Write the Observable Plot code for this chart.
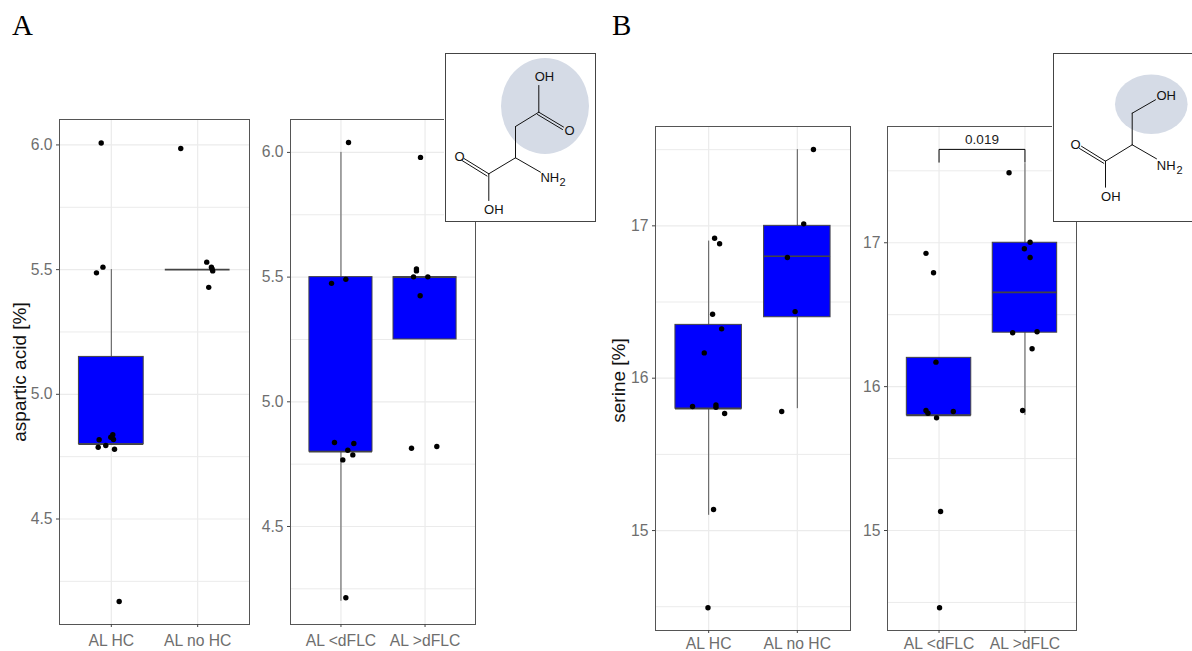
<!DOCTYPE html>
<html>
<head>
<meta charset="utf-8">
<script src="https://cdn.jsdelivr.net/npm/d3@7"></script>
<script src="https://cdn.jsdelivr.net/npm/@observablehq/plot@0.6"></script>
<style>
html,body{margin:0;padding:0;background:#fff;overflow:hidden}
#page{position:relative;width:1192px;height:651px;overflow:hidden;background:#fff}
#page svg{position:absolute;max-width:none}
.tag{position:absolute;font-family:"Liberation Serif",serif;font-size:29px;color:#000;line-height:1}
</style>
</head>
<body>
<div id="page"></div>
<script>
// ---- categories & labels
const hcCategories = ["AL HC", "AL no HC"];
const flcCategories = ["AL <dFLC", "AL >dFLC"];
const panelTags = ["A", "B"];
const aspLabel = "aspartic acid [%]";
const serLabel = "serine [%]";
const pValue = "0.019";

// ---- axis ticks
const aspMajor = [4.5, 5.0, 5.5, 6.0];
const aspMinor = [4.25, 4.75, 5.25, 5.75];
const serMajor = [15, 16, 17];
const serMinor = [14.5, 15.5, 16.5, 17.5];

// ---- aspartic acid, HC split
const a1Q1 = [4.8, 5.5], a1Q3 = [5.15, 5.5], a1Med = [4.8, 5.5], a1Lo = [4.8, 5.5], a1Hi = [5.5, 5.5];
const a1PtGroup = [0.883,0.903,0.828,0.859,0.848,0.936,1.037,1.017,0.994,1.025,1.091,1.804,2.105,2.159,2.167,2.174,2.128];
const a1PtValue = [6.008,5.51,5.487,4.818,4.788,4.795,4.78,4.838,4.828,4.819,4.169,5.986,5.53,5.51,5.503,5.495,5.429];

// ---- aspartic acid, dFLC split
const a2Q1 = [4.8, 5.25], a2Q3 = [5.5, 5.5], a2Med = [4.8, 5.5], a2Lo = [4.2, 5.25], a2Hi = [6.0, 5.5];
const a2PtGroup = [0.888,1.058,1.946,1.09,1.898,1.898,1.863,2.033,1.942,0.923,1.153,1.081,1.141,1.022,1.058,1.839,2.14];
const a2PtValue = [5.475,5.491,5.98,6.04,5.533,5.525,5.501,5.501,5.425,4.837,4.833,4.806,4.787,4.767,4.214,4.814,4.821];

// ---- serine, HC split
const b1Q1 = [15.8, 16.4], b1Q3 = [16.35, 17], b1Med = [15.8, 16.8], b1Lo = [15.1, 15.8], b1Hi = [16.9, 17.5];
const b1PtGroup = [1.067,1.123,2.182,2.072,1.888,1.044,1.146,0.95,0.818,1.082,1.082,1.18,1.975,1.824,1.055,0.992];
const b1PtValue = [16.919,16.882,17.501,17.013,16.792,16.42,16.324,16.166,15.814,15.825,15.809,15.768,16.437,15.781,15.138,14.493];

// ---- serine, dFLC split
const b2Q1 = [15.8, 16.375], b2Q3 = [16.2, 17], b2Med = [15.8, 16.655], b2Lo = [15.8, 15.8], b2Hi = [16.2, 17.55];
const b2PtGroup = [1.815,0.848,0.936,2.06,1.993,2.06,1.857,2.141,2.083,1.973,0.964,0.848,0.871,1.166,0.971,1.018,1.006];
const b2PtValue = [17.487,16.926,16.791,17.004,16.958,16.898,16.374,16.381,16.263,15.834,16.17,15.834,15.815,15.827,15.783,15.132,14.463];
const bracketGroup = [1, 1, 2, 2];
const bracketValue = [17.56, 17.649, 17.649, 17.56];

// ---- structural formulas (drawing units of each inset)
const aspBonds = [
  [[538.3,85],[538.3,111.7]],[[538.3,111.7],[563,126.5]],[[537,114],[562,129]],
  [[538.3,111.7],[515,126]],[[515,126],[515,157.3]],[[515,157.3],[488.3,173.3]],
  [[488.3,173.3],[463.5,158]],[[486.5,175.5],[461.5,160]],[[515,157.3],[540,171.7]],[[488.3,173.3],[488.3,200]]];
const aspAtoms = [["OH",544,76.7],["O",569,130.7],["O",459,156.7],["OH",493.3,209.3],["NH",549.3,177.3]];
const aspSub = [["2",562,181.5]];
const serBonds = [
  [[1155,99.3],[1131.7,112.7]],[[1131.7,112.7],[1131.7,144.3]],[[1131.7,144.3],[1105,160.7]],
  [[1105,160.7],[1081,145.8]],[[1103.3,162.8],[1079,148]],[[1131.7,144.3],[1156,158.3]],[[1105,160.7],[1105,186.7]]];
const serAtoms = [["OH",1165.7,95.7],["O",1075,144],["OH",1110.3,196.7],["NH",1165.7,165]];
const serSub = [["2",1179,170]];

const page = document.getElementById("page");
const sans = "'Liberation Sans', Arial, sans-serif";
const rows = (q1, q3, med, lo, hi) => q1.map((d, i) => ({g: i + 1, q1: d, q3: q3[i], med: med[i], lo: lo[i], hi: hi[i]}));
const dots = (xs, ys) => xs.map((x, i) => ({x, y: ys[i]}));

function panel(cfg) {
  const marginLeft = 50, marginRight = 1, marginTop = 1, marginBottom = 21;
  const boxes = cfg.boxes;
  const marks = [
    Plot.ruleY(cfg.minor, {stroke: "#ebebeb", strokeWidth: 1}),
    Plot.ruleY(cfg.major, {stroke: "#ebebeb", strokeWidth: 1.2}),
    Plot.ruleX([1, 2], {stroke: "#ebebeb", strokeWidth: 1.2}),
    Plot.ruleX(boxes, {x: "g", y1: "lo", y2: "hi", stroke: "#555", strokeWidth: 1}),
    Plot.rect(boxes, {x1: d => d.g - 0.375, x2: d => d.g + 0.375, y1: "q1", y2: "q3", fill: "#0000ff", stroke: "#444", strokeWidth: 1}),
    Plot.ruleY(boxes, {y: "med", x1: d => d.g - 0.375, x2: d => d.g + 0.375, stroke: "#444", strokeWidth: 1.6}),
    Plot.dot(cfg.points, {x: "x", y: "y", r: 2.7, fill: "#000", stroke: "none"}),
    Plot.frame({stroke: "#555", strokeWidth: 1}),
    Plot.axisX([1, 2], {tickFormat: d => cfg.cats[d - 1], tickSize: 3, tickPadding: cfg.tickPad, fontSize: 15.7, stroke: "#444", fill: "#6e6e6e", label: null}),
    Plot.axisY(cfg.major, {tickFormat: cfg.fmt, tickSize: 3, tickPadding: 4, fontSize: 15.7, stroke: "#444", fill: "#6e6e6e", label: null})
  ];
  if (cfg.label) marks.push(Plot.text([cfg.label], {frameAnchor: "left", textAnchor: "middle", rotate: -90, dx: cfg.labelDx, dy: cfg.labelDy || 0, fontSize: 19, fill: "#111", text: d => d}));
  if (cfg.bracket) {
    marks.push(Plot.line(dots(bracketGroup, bracketValue), {x: "x", y: "y", stroke: "#000", strokeWidth: 1, curve: "linear"}));
    marks.push(Plot.text([pValue], {x: () => 1.5, y: () => bracketValue[1], dy: -9.5, fontSize: 13.5, fill: "#222", text: d => d}));
  }
  const svg = Plot.plot({
    width: cfg.right - cfg.left + marginLeft + marginRight,
    height: cfg.bottom - cfg.top + marginTop + marginBottom,
    marginLeft, marginRight, marginTop, marginBottom,
    x: {domain: [0.4, 2.6], axis: null},
    y: {domain: cfg.domain, axis: null},
    style: {fontFamily: sans, background: "transparent", overflow: "visible"},
    marks
  });
  svg.style.left = (cfg.left - marginLeft) + "px";
  svg.style.top = (cfg.top - marginTop) + "px";
  page.appendChild(svg);
}

function inset(cfg) {
  const w = cfg.x2 - cfg.x1 + 2, h = cfg.y2 - cfg.y1 + 2;
  const svg = Plot.plot({
    width: w, height: h, marginLeft: 1, marginRight: 1, marginTop: 1, marginBottom: 1,
    x: {domain: [cfg.x1, cfg.x2], axis: null},
    y: {domain: [cfg.y2, cfg.y1], axis: null},
    style: {fontFamily: sans, background: "#fff"},
    marks: [
      (index, {x, y}) => {
        const e = document.createElementNS("http://www.w3.org/2000/svg", "ellipse");
        e.setAttribute("cx", x(cfg.ell[0])); e.setAttribute("cy", y(cfg.ell[1]));
        e.setAttribute("rx", cfg.ell[2]); e.setAttribute("ry", cfg.ell[3]);
        e.setAttribute("fill", "#d5dbe6");
        return e;
      },
      ...cfg.bonds.map(b => Plot.line(b, {x: d => d[0], y: d => d[1], stroke: "#111", strokeWidth: 1})),
      Plot.text(cfg.atoms, {x: d => d[1], y: d => d[2], text: d => d[0], fontSize: 13, fill: "#111"}),
      Plot.text(cfg.sub, {x: d => d[1], y: d => d[2], text: d => d[0], fontSize: 11, fill: "#111"}),
      Plot.frame({stroke: "#444", strokeWidth: 1})
    ]
  });
  svg.style.left = (cfg.x1 - 1) + "px";
  svg.style.top = (cfg.y1 - 1) + "px";
  page.appendChild(svg);
}

const fmt1 = d3.format(".1f"), fmt0 = d3.format("d");

panel({left: 59, right: 249, top: 119, bottom: 624, domain: [4.077, 6.102], cats: hcCategories, major: aspMajor, minor: aspMinor, fmt: fmt1, tickPad: 7,
  boxes: rows(a1Q1, a1Q3, a1Med, a1Lo, a1Hi), points: dots(a1PtGroup, a1PtValue), label: aspLabel, labelDx: -40});
panel({left: 290, right: 475, top: 119, bottom: 624, domain: [4.107, 6.132], cats: flcCategories, major: aspMajor, minor: aspMinor, fmt: fmt1, tickPad: 7,
  boxes: rows(a2Q1, a2Q3, a2Med, a2Lo, a2Hi), points: dots(a2PtGroup, a2PtValue)});
panel({left: 655, right: 850, top: 126, bottom: 630, domain: [14.344, 17.652], cats: hcCategories, major: serMajor, minor: serMinor, fmt: fmt0, tickPad: 4,
  boxes: rows(b1Q1, b1Q3, b1Med, b1Lo, b1Hi), points: dots(b1PtGroup, b1PtValue), label: serLabel, labelDx: -37, labelDy: 2});
panel({left: 887, right: 1076, top: 126, bottom: 630, domain: [14.305, 17.808], cats: flcCategories, major: serMajor, minor: serMinor, fmt: fmt0, tickPad: 4,
  boxes: rows(b2Q1, b2Q3, b2Med, b2Lo, b2Hi), points: dots(b2PtGroup, b2PtValue), bracket: true});

inset({x1: 445, x2: 595, y1: 53, y2: 221, ell: [545, 106, 44, 48], bonds: aspBonds, atoms: aspAtoms, sub: aspSub});
inset({x1: 1053, x2: 1200, y1: 53, y2: 221, ell: [1151.3, 104.2, 36.3, 29.8], bonds: serBonds, atoms: serAtoms, sub: serSub});

[[panelTags[0], 12], [panelTags[1], 612]].forEach(([t, x]) => {
  const d = document.createElement("div");
  d.className = "tag"; d.textContent = t; d.style.left = x + "px"; d.style.top = "11px";
  page.appendChild(d);
});
</script>
</body>
</html>
